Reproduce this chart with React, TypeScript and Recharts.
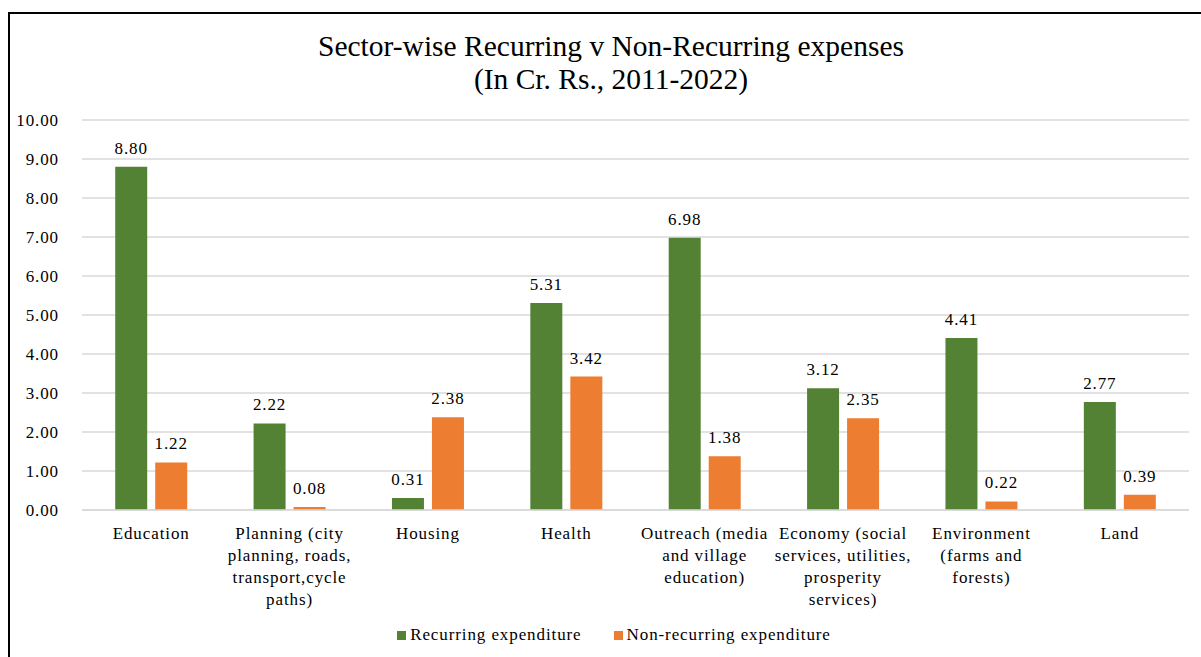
import { BarChart, Bar, XAxis, YAxis, CartesianGrid, LabelList, Legend } from "recharts";

const CATEGORIES = [
  "Education",
  "Planning (city\nplanning, roads,\ntransport,cycle\npaths)",
  "Housing",
  "Health",
  "Outreach (media\nand village\neducation)",
  "Economy (social\nservices, utilities,\nprosperity\nservices)",
  "Environment\n(farms and\nforests)",
  "Land",
];
const RECURRING = [8.8, 2.22, 0.31, 5.31, 6.98, 3.12, 4.41, 2.77];
const NON_RECURRING = [1.22, 0.08, 2.38, 3.42, 1.38, 2.35, 0.22, 0.39];
const Y_TICKS = [0, 1, 2, 3, 4, 5, 6, 7, 8, 9, 10];

const data = CATEGORIES.map((name, i) => ({
  name,
  recurring: RECURRING[i],
  nonRecurring: NON_RECURRING[i],
}));

const FONT = "'Liberation Serif', 'Times New Roman', serif";
const GREEN = "#548235";
const ORANGE = "#ED7D31";

function CategoryTick(props: any) {
  const { x, payload } = props;
  const lines = String(payload.value).split("\n");
  return (
    <text x={x} y={539} textAnchor="middle" style={{ fontFamily: FONT, fontSize: 17, letterSpacing: 0.9 }} fill="#000">
      {lines.map((l, i) => (
        <tspan key={i} x={x} dy={i === 0 ? 0 : 22}>
          {l}
        </tspan>
      ))}
    </text>
  );
}

function LegendContent() {
  const items = [
    { label: "Recurring expenditure", color: GREEN },
    { label: "Non-recurring expenditure", color: ORANGE },
  ];
  return (
    <div style={{ display: "flex", justifyContent: "center", gap: 32, fontFamily: FONT, fontSize: 17, letterSpacing: 0.9 }}>
      {items.map((it) => (
        <div key={it.label} style={{ display: "flex", alignItems: "center" }}>
          <span style={{ width: 9, height: 9, background: it.color, display: "inline-block", marginRight: 4 }} />
          <span>{it.label}</span>
        </div>
      ))}
    </div>
  );
}

const labelStyle = { fontFamily: FONT, fontSize: 17, fill: "#000", letterSpacing: 0.9 };

export default function App() {
  return (
    <div style={{ position: "absolute", left: 0, top: 0, width: 1201, height: 657, overflow: "hidden", background: "#fff" }}>
      <div
        style={{
          position: "absolute",
          left: 8,
          top: 12,
          width: 1220,
          height: 700,
          border: "2px solid #000",
          boxSizing: "border-box",
        }}
      />
      <div
        style={{
          position: "absolute",
          left: 0,
          width: 1222,
          top: 30,
          textAlign: "center",
          fontFamily: FONT,
          fontSize: 29.5,
          lineHeight: "33px",
          color: "#000",
        }}
      >
        Sector-wise Recurring v Non-Recurring expenses
        <br />
        (In Cr. Rs., 2011-2022)
      </div>
      <div style={{ position: "absolute", left: 0, top: 0 }}>
        <BarChart
          width={1201}
          height={657}
          data={data}
          margin={{ top: 120, right: 12, left: 0, bottom: 47 }}
          barCategoryGap="24%"
          barGap={8}
          style={{ fontFamily: FONT }}
        >
          <CartesianGrid vertical={false} stroke="#d9d9d9" strokeWidth={1.5} />
          <XAxis
            dataKey="name"
            axisLine={{ stroke: "#d9d9d9", strokeWidth: 1.5 }}
            tickLine={false}
            interval={0}
            height={100}
            tick={<CategoryTick />}
          />
          <YAxis
            width={82}
            domain={[0, 10]}
            ticks={Y_TICKS}
            axisLine={false}
            tickLine={false}
            tickMargin={17}
            tickFormatter={(v: number) => v.toFixed(2)}
            tick={{ style: labelStyle, fill: "#000" }}
          />
          <Legend
            verticalAlign="middle"
            align="center"
            layout="horizontal"
            wrapperStyle={{ top: 625, left: 0, width: 1228 }}
            content={<LegendContent />}
          />
          <Bar dataKey="recurring" name="Recurring expenditure" fill={GREEN} isAnimationActive={false}>
            <LabelList
              dataKey="recurring"
              position="top"
              offset={13}
              formatter={(v: number) => v.toFixed(2)}
              style={labelStyle}
            />
          </Bar>
          <Bar dataKey="nonRecurring" name="Non-recurring expenditure" fill={ORANGE} isAnimationActive={false}>
            <LabelList
              dataKey="nonRecurring"
              position="top"
              offset={13}
              formatter={(v: number) => v.toFixed(2)}
              style={labelStyle}
            />
          </Bar>
        </BarChart>
      </div>
    </div>
  );
}
